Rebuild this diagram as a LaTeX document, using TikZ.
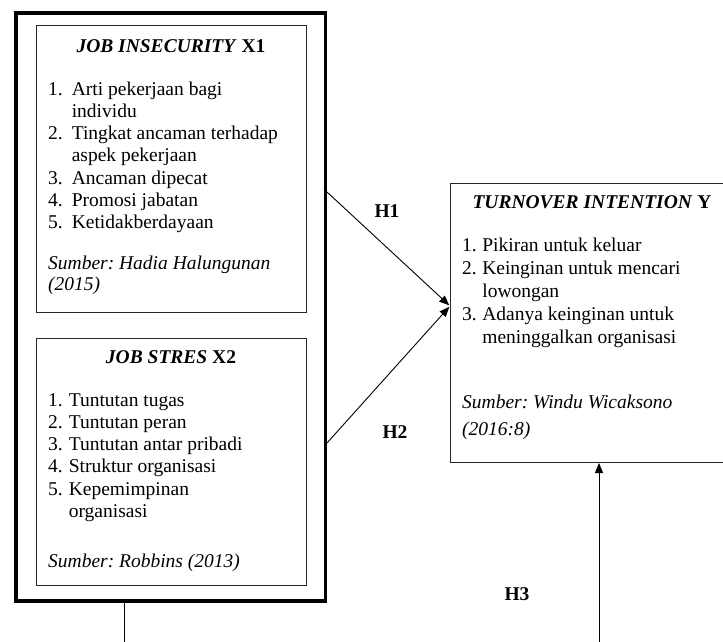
\documentclass[tikz,border=0pt]{standalone}
\usepackage{fontspec}
\setmainfont{Liberation Serif}
\usetikzlibrary{arrows.meta,calc}
\frenchspacing
\begin{document}
\begin{tikzpicture}[x=1pt,y=-1pt,
  thinbox/.style={draw=black!85,line width=1pt,rectangle,inner sep=0pt,anchor=north west},
  thickbox/.style={draw=black,line width=3.5pt,rectangle,inner sep=0pt,anchor=north west},
  txt/.style={anchor=base west,inner sep=0pt,font=\fontsize{19.5}{22.3}\selectfont\frenchspacing},
  txty/.style={anchor=base west,inner sep=0pt,font=\fontsize{19.5}{23}\selectfont\frenchspacing},
  ttl/.style={anchor=base,inner sep=0pt,font=\fontsize{19.5}{22.3}\selectfont\bfseries},
  hlab/.style={anchor=base,inner sep=0pt,font=\fontsize{19.5}{22}\selectfont\bfseries},
  conn/.style={draw=black,line width=0.9pt,-{Triangle[length=10pt,width=8pt]}},
  plain/.style={draw=black,line width=0.9pt}]
\useasboundingbox (0,0) rectangle (723,641);
\clip (0,0) rectangle (723,641);
% boxes
\node[thickbox, minimum width=309.5pt, minimum height=588pt] (outer) at (14,11) {};
\node[thinbox, minimum width=270pt, minimum height=287pt] (b1) at (36,25) {};
\node[thinbox, minimum width=270pt, minimum height=247pt] (b2) at (36,338) {};
\node[thinbox, minimum width=284pt, minimum height=279pt] (Y) at (450,183) {};
% box 1 text
\node[ttl] (t1) at (171,52) {\textit{JOB INSECURITY} X1};
\node[txt] (l1) at (48,95) {\begin{tabular}[t]{@{}l@{\hspace{9pt}}l@{}}1.&Arti pekerjaan bagi\\ &individu\\2.&Tingkat ancaman terhadap\\&aspek pekerjaan\\3.&Ancaman dipecat\\4.&Promosi jabatan\\5.&Ketidakberdayaan\end{tabular}};
\node[txt] (s1a) at (48,269) {\textit{Sumber: Hadia Halungunan}};
\node[txt] (s1b) at (48,290) {\textit{(2015)}};
% box 2 text
\node[ttl] (t2) at (171,363) {\textit{JOB STRES} X2};
\node[txt] (l2) at (48,406) {\begin{tabular}[t]{@{}l@{\hspace{6pt}}l@{}}1.&Tuntutan tugas\\2.&Tuntutan peran\\3.&Tuntutan antar pribadi\\4.&Struktur organisasi\\5.&Kepemimpinan\\&organisasi\end{tabular}};
\node[txt] (s2) at (48,567) {\textit{Sumber: Robbins (2013)}};
% Y text
\node[ttl] (ty) at (592,208) {\textit{TURNOVER INTENTION} Y};
\node[txty] (ly) at (462,251) {\begin{tabular}[t]{@{}l@{\hspace{5.5pt}}l@{}}1.&Pikiran untuk keluar\\2.&Keinginan untuk mencari\\&lowongan\\3.&Adanya keinginan untuk\\&meninggalkan organisasi\end{tabular}};
\node[txt] (sya) at (462,408) {\textit{Sumber: Windu Wicaksono}};
\node[txt] (syb) at (462,435) {\textit{(2016:8)}};
% labels
\node[hlab] (h1) at (387,217) {H1};
\node[hlab] (h2) at (395,438) {H2};
\node[hlab] (h3) at (517,600) {H3};
% connectors
\coordinate (h1s) at ($(outer.north east)+(0,181)$);
\coordinate (h2s) at ($(outer.north east)+(0,432)$);
\coordinate (yin) at ($(Y.north west)+(0,123)$);
\draw[conn, shorten >=1pt] (h1s) -- (yin);
\draw[conn, shorten >=1pt] (h2s) -- (yin);
\coordinate (ls) at ($(outer.south west)+(110,0)$);
\coordinate (lend) at (124,650);
\draw[plain] (ls) -- (lend);
\coordinate (rstart) at (599,650);
\coordinate (yb) at ($(Y.south west)+(149,0)$);
\draw[conn] (rstart) -- (yb);
\end{tikzpicture}
\end{document}
